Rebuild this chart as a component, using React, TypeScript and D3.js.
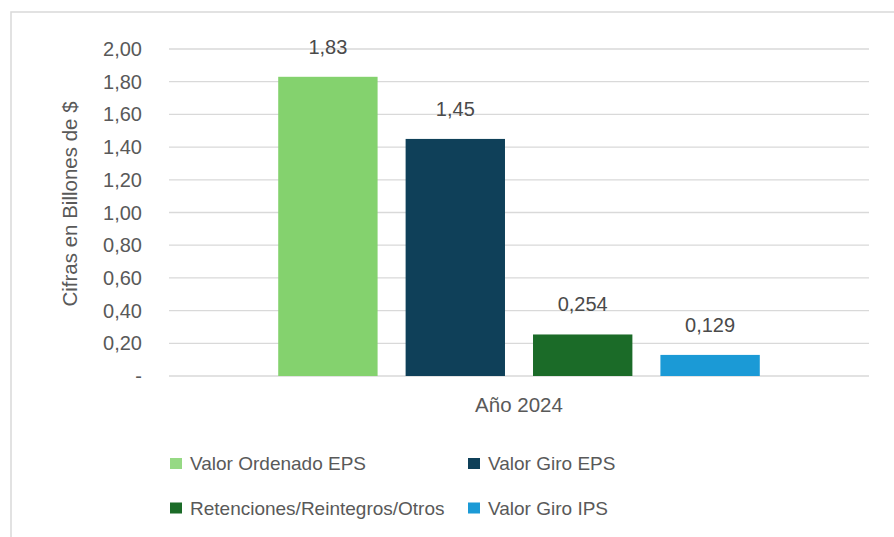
import React from "react";
import { scaleBand, scaleLinear } from "d3";

const width = 894;
const height = 537;

// data
const categories = ["Año 2024"];
const seriesNames = [
  "Valor Ordenado EPS",
  "Valor Giro EPS",
  "Retenciones/Reintegros/Otros",
  "Valor Giro IPS",
];
const seriesValues = [1.83, 1.45, 0.254, 0.129];
const valueLabels = ["1,83", "1,45", "0,254", "0,129"];
const seriesColors = ["#84d26e", "#0f4059", "#1b6b28", "#1b9ad6"];
const yTicks = [0, 0.2, 0.4, 0.6, 0.8, 1.0, 1.2, 1.4, 1.6, 1.8, 2.0];
const yTickLabels = ["-", "0,20", "0,40", "0,60", "0,80", "1,00", "1,20", "1,40", "1,60", "1,80", "2,00"];

const plotLeft = 169;
const plotRight = 869;
const plotTop = 49;
const plotBottom = 376;

const font = "'Liberation Sans', Arial, sans-serif";
const textColor = "#595959";

const yScale = scaleLinear().domain([0, 2]).range([plotBottom, plotTop]);
const xCat = scaleBand().domain(categories).range([plotLeft, plotRight]);

export default function App() {
  const x0 = xCat(categories[0]) || plotLeft;
  const bw = xCat.bandwidth();
  const xSeries = scaleBand()
    .domain(seriesNames)
    .range([x0 + bw * 0.136, x0 + bw * 0.864])
    .paddingInner(0.22)
    .paddingOuter(0.11);

  return (
    <div style={{ position: "absolute", left: 0, top: 0 }}>
      <svg width={width} height={height} style={{ display: "block", background: "#fff" }}>
        {/* frame */}
        <path d={`M11,${height} L11,12 L${width},12`} fill="none" stroke="#d9d9d9" strokeWidth={1.5} />

        {/* gridlines */}
        {yTicks.map((t) => (
          <line key={t} x1={plotLeft} x2={plotRight} y1={yScale(t)} y2={yScale(t)} stroke="#d9d9d9" strokeWidth={1.3} />
        ))}

        {/* y tick labels */}
        {yTicks.map((t, i) => (
          <text key={"l" + t} x={142} y={yScale(t)} dy="0.35em" textAnchor="end" fontFamily={font} fontSize={20} fill={textColor}>
            {yTickLabels[i]}
          </text>
        ))}

        {/* y axis title */}
        <text transform={`translate(70,${204}) rotate(-90)`} textAnchor="middle" dy="0.35em" fontFamily={font} fontSize={20.5} fill={textColor}>
          Cifras en Billones de $
        </text>

        {/* bars */}
        {seriesNames.map((s, i) => {
          const x = xSeries(s) || 0;
          const y = yScale(seriesValues[i]);
          return (
            <g key={s}>
              <rect x={x} y={y} width={xSeries.bandwidth()} height={plotBottom - y} fill={seriesColors[i]} />
              <text x={x + xSeries.bandwidth() / 2} y={y - 30} dy="0.35em" textAnchor="middle" fontFamily={font} fontSize={20} fill="#4a4a4a">
                {valueLabels[i]}
              </text>
            </g>
          );
        })}

        {/* category label */}
        <text x={x0 + bw / 2} y={405} dy="0.35em" textAnchor="middle" fontFamily={font} fontSize={20.5} fill={textColor}>
          {categories[0]}
        </text>

        {/* legend */}
        {seriesNames.map((s, i) => {
          const lx = i % 2 === 0 ? 170 : 468;
          const ly = i < 2 ? 463.5 : 508;
          return (
            <g key={"lg" + s}>
              <rect x={lx} y={ly - 5.5} width={12} height={11} fill={seriesColors[i]} opacity={i === 0 ? 0.85 : 1} />
              <text x={lx + 20} y={ly} dy="0.35em" fontFamily={font} fontSize={19} fill={textColor}>
                {s}
              </text>
            </g>
          );
        })}
      </svg>
    </div>
  );
}
